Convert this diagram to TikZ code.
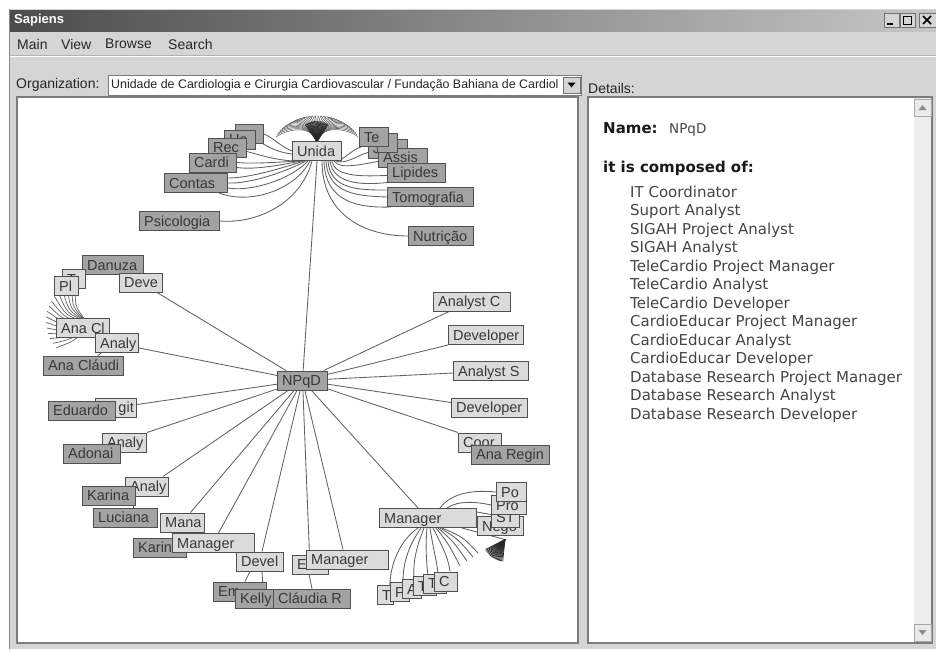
\documentclass[tikz,border=0pt]{standalone}
\usepackage{fontspec}
\newfontfamily\uifont{Liberation Sans}
\newfontfamily\dvfont{DejaVu Sans}
\usetikzlibrary{calc}
\pgfdeclarelayer{chrome}
\pgfdeclarelayer{edges}
\pgfsetlayers{chrome,edges,main}
\definecolor{winbg}{HTML}{D5D5D5}
\definecolor{titl}{HTML}{4C4C4C}
\definecolor{titr}{HTML}{C6C6C6}
\definecolor{dfill}{HTML}{A3A3A3}
\definecolor{lfill}{HTML}{DBDBDB}
\definecolor{bdr}{HTML}{505050}
\definecolor{edgec}{HTML}{626262}
\definecolor{gtxt}{HTML}{383838}
\definecolor{ptxt}{HTML}{454545}
\definecolor{pbdr}{HTML}{7C7C7C}
\definecolor{track}{HTML}{EDEDED}
\tikzset{
  gbase/.style={draw=bdr, line width=1pt, minimum height=19pt, inner sep=0pt, anchor=west},
  dbox/.style={gbase, fill=dfill},
  lbox/.style={gbase, fill=lfill},
  gtext/.style={font=\uifont\fontsize{14.5}{16}\selectfont, text=gtxt, inner sep=0pt, text height=12pt, text depth=2pt},
  edge/.style={draw=edgec, line width=0.85pt},
  tuft/.style={draw=black!85, line width=0.6pt},
  uitext/.style={font=\uifont\fontsize{14}{16}\selectfont, text=black!85, inner sep=0pt, anchor=west},
  ptext/.style={font=\dvfont\fontsize{15}{18}\selectfont, text=ptxt, inner sep=0pt, anchor=base west},
  phead/.style={font=\dvfont\bfseries\fontsize{15}{18}\selectfont, text=black!90, inner sep=0pt, anchor=base west},
  wbtn/.style={draw=black!55, fill=winbg, line width=0.8pt},
}
\newcommand\gbox[6]{\node[#1, minimum width={#4-#3}, label={[gtext, anchor=west, xshift=5pt]west:#6}] (#2) at (#3,#5) {};}
\begin{document}
\begin{tikzpicture}[x=1pt,y=-1pt]
\useasboundingbox (0,0) rectangle (936,649);
\begin{pgfonlayer}{chrome}
\fill[white] (0,0) rectangle (936,649);
\fill[winbg] (9,9) rectangle (936,649);
\draw[black!45, line width=1pt] (9.5,9) -- (9.5,649);
\shade[left color=titl, right color=titr] (10,10) rectangle (936,31);
\draw[black!30, line width=0.8pt] (10,55.5) -- (936,55.5);
\draw[white, line width=0.8pt] (10,56.5) -- (936,56.5);
% buttons
\draw[wbtn] (884,13) rectangle (899,27);
\draw[line width=1.6pt] (887,24) -- (893,24);
\draw[wbtn] (900,13) rectangle (915,27);
\draw[line width=0.8pt] (903,16.5) rectangle (911,24);
\draw[wbtn] (919,13) rectangle (937,27);
\draw[line width=1.6pt] (923,16) -- (931,24) (931,16) -- (923,24);
% combobox
\fill[white] (108,75) rectangle (581,95);
\draw[pbdr, line width=1pt] (108,75) rectangle (581,95);
\draw[wbtn] (563,77) rectangle (580,93.5);
\fill[black] (567.5,82.5) -- (575.5,82.5) -- (571.5,87.5) -- cycle;
% panels
\fill[white] (17,97) rectangle (578,643);
\draw[pbdr, line width=1.5pt] (17,97) rectangle (578,643);
\fill[white] (588,97) rectangle (932,643);
\draw[pbdr, line width=1.5pt] (588,97) rectangle (932,643);
\fill[track] (914,98) rectangle (931.2,642);
\draw[wbtn, fill=winbg!50!white, draw=black!35] (914,99) rectangle (931,116);
\fill[black!45] (918.5,110) -- (926.5,110) -- (922.5,105) -- cycle;
\draw[wbtn, fill=winbg!50!white, draw=black!35] (914,624) rectangle (931,641);
\fill[black!45] (918.5,630) -- (926.5,630) -- (922.5,635) -- cycle;
\end{pgfonlayer}
% chrome texts
\node[font=\uifont\bfseries\fontsize{13}{15}\selectfont, text=white, inner sep=0pt, anchor=west] (title) at (14,20.5) {Sapiens};
\node[uitext] (mMain) at (17,44) {Main};
\node[uitext] (mView) at (61,44) {View};
\node[uitext] (mBrowse) at (105,44) {Browse};
\node[uitext] (mSearch) at (168,44) {Search};
\node[uitext] (orglbl) at (16,84.5) {Organization:};
\node[font=\uifont\fontsize{12.4}{14}\selectfont, text=black!85, inner sep=0pt, anchor=west] (orgval) at (111,85.5) {Unidade de Cardiologia e Cirurgia Cardiovascular / Fundação Bahiana de Cardiol};
\node[uitext] (details) at (588,88.5) {Details:};
% details panel
\node[phead] (namelbl) at (603,133) {Name:};
\node[font=\dvfont\fontsize{13.5}{16}\selectfont, text=ptxt, inner sep=0pt, anchor=base west] (nameval) at (669,133) {NPqD};
\node[phead] (complbl) at (603,172) {it is composed of:};
\foreach \t [count=\i from 0] in {IT Coordinator, Suport Analyst, SIGAH Project Analyst, SIGAH Analyst, TeleCardio Project Manager, TeleCardio Analyst, TeleCardio Developer, CardioEducar Project Manager, CardioEducar Analyst, CardioEducar Developer, Database Research Project Manager, Database Research Analyst, Database Research Developer}
  \node[ptext] (item\i) at (630,{197+18.5*\i}) {\t};
% ---------- graph nodes ----------
% top cluster
\gbox{dbox}{uzero}{235}{263}{134}{}
\gbox{dbox}{uua}{224}{255}{139.5}{Ua}
\gbox{dbox}{urec}{208}{246}{147.5}{Rec}
\gbox{dbox}{ucardi}{189}{236}{162.5}{Cardi}
\gbox{dbox}{ucontas}{164}{227}{183}{Contas}
\gbox{dbox}{upsi}{139}{219}{221}{Psicologia}
\gbox{lbox}{unida}{292}{341}{151}{Unida}
\gbox{dbox}{ujo}{368}{407}{148.5}{Jo}
\gbox{dbox}{uassis}{378}{427}{157.5}{Assis}
\gbox{dbox}{ulip}{387}{445}{172.5}{Lipides}
\gbox{dbox}{ublank}{377}{397}{143}{}
\gbox{dbox}{ute}{359}{388}{137}{Te}
\gbox{dbox}{utomo}{387}{473}{197}{Tomografia}
\gbox{dbox}{unutri}{408}{473}{236}{Nutrição}
% left cluster
\gbox{dbox}{danuza}{82}{143}{265}{Danuza}
\gbox{lbox}{tbox}{62}{85}{279}{T}
\gbox{lbox}{pl}{54}{78}{286}{Pl}
\gbox{lbox}{deve}{119}{162}{282.5}{Deve}
\gbox{lbox}{anacl}{56}{109}{328}{Ana Cl}
\gbox{lbox}{analyL}{95}{138}{343}{Analy}
\gbox{dbox}{anaclaudi}{43}{123}{365.5}{Ana Cláudi}
\node[lbox, minimum width=41, label={[gtext, anchor=east, xshift=-3pt]east:git}] (git) at (95,407.5) {};
\gbox{dbox}{eduardo}{48}{115}{410.5}{Eduardo}
\gbox{lbox}{analyA}{102}{146}{442.5}{Analy}
\gbox{dbox}{adonai}{63}{120}{453.5}{Adonai}
\gbox{lbox}{analyK}{125}{168}{486.5}{Analy}
\gbox{dbox}{karina}{82}{135}{495.5}{Karina}
\gbox{dbox}{luciana}{93}{157}{517.5}{Luciana}
\gbox{lbox}{mana}{160}{204}{522.5}{Mana}
\gbox{dbox}{karin}{133}{186}{547.5}{Karin}
\gbox{lbox}{mgrL}{172}{254}{543}{Manager}
\gbox{lbox}{devel}{236}{283}{561.5}{Devel}
\gbox{dbox}{emD}{213}{266}{591.5}{Em}
\gbox{dbox}{kelly}{235}{277}{598.5}{Kelly}
\gbox{dbox}{claudia}{273}{350}{598.5}{Cláudia R}
\gbox{lbox}{emL}{292}{328}{564.5}{Em}
\gbox{lbox}{mgrM}{306}{388}{559.5}{Manager}
% right list
\gbox{lbox}{ac}{433}{510}{301.5}{Analyst C}
\gbox{lbox}{dev1}{448}{523}{335}{Developer}
\gbox{lbox}{as}{453}{528}{371}{Analyst S}
\gbox{lbox}{dev2}{451}{527}{407.5}{Developer}
\gbox{lbox}{coor}{458}{501}{442.5}{Coor}
\gbox{dbox}{anaregin}{471}{549}{454.5}{Ana Regin}
\gbox{dbox}{npqd}{277}{327}{380.5}{NPqD}
% bottom right
\gbox{lbox}{mgrR}{379}{476}{518}{Manager}
\gbox{lbox}{nego}{477}{523}{526}{Nego}
\gbox{lbox}{st}{491}{519}{517.5}{ST}
\gbox{lbox}{pro}{491}{526}{505}{Pro}
\gbox{lbox}{po}{496}{526}{492}{Po}
\gbox{lbox}{bA}{377}{393}{595}{T}
\gbox{lbox}{bB}{390}{409}{592}{P}
\gbox{lbox}{bC}{402}{421}{589}{A}
\gbox{lbox}{bD}{413}{436}{586}{T}
\gbox{lbox}{bE}{423}{446}{583.5}{T}
\gbox{lbox}{bF}{434}{457}{581.5}{C}
% ---------- edges ----------
\begin{pgfonlayer}{edges}
% Unida tuft
\coordinate (hc) at ($(unida.north)+(0,1)$);
\foreach \a in {192,197,...,348} {
  \coordinate (hB\a) at ($(hc)+({42*cos(\a)},{24*sin(\a)})$);
  \draw[edge, line width=0.55pt] (hc) .. controls ($(hc)+({6*cos(\a)},-18)$) and ($(hB\a)+({-12*cos(\a)},-8)$) .. (hB\a);
}
\foreach \a in {236,239,...,304} {
  \coordinate (hA\a) at ($(hc)+(\a:21)$);
  \draw[tuft] (hc) -- (hA\a);
}
% Unida left children
\draw[edge] ($(unida.south)+(-5,0)$) .. controls (300,205) and (255,224) .. (upsi.east);
\draw[edge] ($(unida.south)+(-7,0)$) .. controls (295,190) and (250,205) .. ($(ucontas.south east)+(-9,0)$);
\draw[edge] ($(unida.south)+(-9,0)$) .. controls (290,180) and (250,192) .. ($(ucontas.east)+(0,5)$);
\draw[edge] ($(unida.south)+(-11,0)$) .. controls (285,172) and (250,184) .. (ucontas.east);
\draw[edge] ($(unida.south)+(-13,0)$) .. controls (282,168) and (250,178) .. ($(ucontas.east)+(0,-5)$);
\draw[edge] ($(unida.south)+(-15,0)$) .. controls (280,165) and (255,170) .. ($(ucardi.east)+(0,5)$);
\draw[edge] ($(unida.south)+(-17,0)$) .. controls (280,162) and (255,164) .. (ucardi.east);
\draw[edge] ($(unida.south west)+(2,0)$) .. controls (275,160) and (260,155) .. ($(urec.east)+(0,4)$);
\draw[edge] ($(unida.west)+(0,3)$) .. controls (275,152) and (265,145) .. (uua.east);
\draw[edge] (unida.west) .. controls (280,146) and (272,137) .. (uzero.east);
% Unida right children
\draw[edge] ($(unida.south east)+(-4,0)$) .. controls (348,156) and (352,150) .. ($(ute.south west)+(2,0)$);
\draw[edge] ($(unida.south east)+(-6,0)$) .. controls (345,165) and (358,155) .. ($(ujo.west)+(0,4)$);
\draw[edge] ($(unida.south east)+(-8,0)$) .. controls (340,170) and (362,164) .. ($(uassis.west)+(0,4)$);
\draw[edge] ($(unida.south east)+(-10,0)$) .. controls (335,178) and (365,176) .. ($(ulip.west)+(0,3)$);
\draw[edge] ($(unida.south east)+(-12,0)$) .. controls (333,185) and (365,185) .. (ulip.south west);
\coordinate (ur1) at (386,190);
\draw[edge] ($(unida.south east)+(-14,0)$) .. controls (330,190) and (360,190) .. (ur1);
\draw[edge] ($(unida.south east)+(-16,0)$) .. controls (328,195) and (360,196) .. (utomo.west);
\draw[edge] ($(unida.south east)+(-18,0)$) .. controls (325,203) and (360,208) .. ($(utomo.south west)+(4,0)$);
\draw[edge] ($(unida.south east)+(-20,0)$) .. controls (322,215) and (365,236) .. (unutri.west);
% trunk
\draw[edge] (unida.south) -- (npqd);
% NPqD children
\draw[edge] (npqd) -- ($(ac.south west)+(16,0)$);
\draw[edge] (npqd) -- (dev1.south west);
\draw[edge] (npqd) -- ($(as.west)+(0,2)$);
\draw[edge] (npqd) -- ($(dev2.west)+(0,-5)$);
\draw[edge] (npqd) -- (coor.north west);
\draw[edge] (npqd) -- ($(deve.south east)+(-6,0)$);
\draw[edge] (npqd) -- ($(analyL.east)+(0,5)$);
\draw[edge] (npqd) -- ($(git.east)+(0,-3)$);
\draw[edge] (npqd) -- (analyA.north east);
\draw[edge] (npqd) -- ($(analyK.north east)+(-6,0)$);
\draw[edge] (npqd) -- ($(mana.north)+(8,0)$);
\draw[edge] (npqd) -- ($(mgrL.north)+(5,0)$);
\draw[edge] (npqd) -- ($(devel.north)+(2,0)$);
\draw[edge] (npqd) -- ($(emL.north)+(-1,0)$);
\draw[edge] (npqd) -- ($(mgrM.north west)+(37,0)$);
\draw[edge] (npqd) -- ($(mgrR.north west)+(39,0)$);
% small sub-edges
\draw[edge] ($(analyL.south west)+(6,0)$) -- ($(anaclaudi.north west)+(55,0)$);
\draw[edge] ($(devel.south west)+(14,0)$) -- ($(emD.north west)+(32,0)$);
\draw[edge] ($(devel.south west)+(26,0)$) -- ($(kelly.north west)+(28,0)$);
\draw[edge] ($(emL.south west)+(17,0)$) -- ($(claudia.north west)+(39,0)$);
\draw[edge] ($(karina.south west)+(51,0)$) -- ($(luciana.north west)+(40,0)$);
% Ana Cl fan
\coordinate (fanc) at ($(anacl.north west)+(30,3)$);
\foreach \a in {138,146,...,262} {
  \coordinate (fa\a) at ($(fanc)+(\a:40)$);
  \draw[edge, line width=0.7pt] (fanc) .. controls ($(fanc)+(\a-25:20)$) .. (fa\a);
}
% Manager (right) up-right
\draw[edge] ($(mgrR.north west)+(61,0)$) .. controls (452,492) and (475,490) .. (po.west);
\draw[edge] ($(mgrR.north west)+(68,0)$) .. controls (458,500) and (478,502) .. (pro.west);
\draw[edge] ($(mgrR.north east)+(0,4)$) -- ($(st.west)+(0,-3)$);
% blob
\coordinate (blob) at ($(mgrR.south east)+(28,11.5)$);
\draw[edge] ($(mgrR.south west)+(83,0)$) -- (blob);
\foreach \a in {96,99,...,153} {
  \coordinate (bl\a) at ($(blob)+(\a:22)$);
  \draw[tuft, line width=0.7pt] (blob) -- (bl\a);
}
% Manager (right) down fan
\draw[edge] ($(mgrR.south west)+(39,0)$) .. controls (400,540) and (390,565) .. ($(bA.north west)+(13,0)$);
\draw[edge] ($(mgrR.south west)+(42,0)$) .. controls (407,548) and (403,565) .. ($(bB.north west)+(13,0)$);
\draw[edge] ($(mgrR.south west)+(45,0)$) .. controls (415,550) and (413,565) .. ($(bC.north west)+(12,0)$);
\draw[edge] ($(mgrR.south west)+(48,0)$) .. controls (425,550) and (427,565) .. ($(bD.north west)+(15,0)$);
\draw[edge] ($(mgrR.south west)+(51,0)$) .. controls (433,548) and (437,562) .. ($(bE.north west)+(15,0)$);
\draw[edge] ($(mgrR.south west)+(54,0)$) .. controls (442,545) and (449,560) .. ($(bF.north west)+(16,0)$);
\coordinate (fr1) at (460,566);
\coordinate (fr2) at (467,561);
\coordinate (fr3) at (473,557);
\coordinate (fr4) at (478,553);
\draw[edge] ($(mgrR.south west)+(57,0)$) .. controls (448,543) .. (fr1);
\draw[edge] ($(mgrR.south west)+(59,0)$) .. controls (453,541) .. (fr2);
\draw[edge] ($(mgrR.south west)+(61,0)$) .. controls (458,539) .. (fr3);
\draw[edge] ($(mgrR.south west)+(63,0)$) .. controls (463,537) .. (fr4);
\end{pgfonlayer}
\end{tikzpicture}
\end{document}
